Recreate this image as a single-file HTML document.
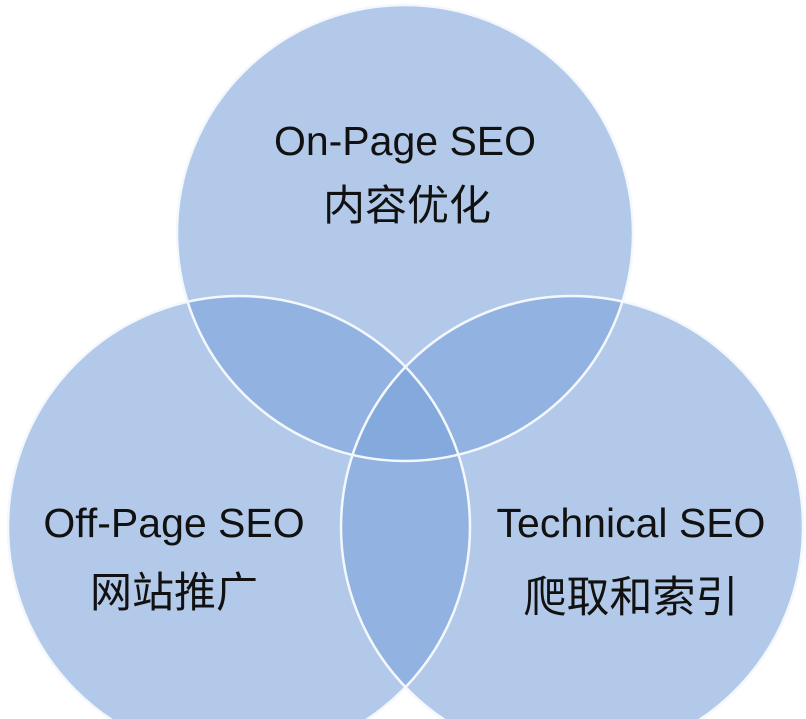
<!DOCTYPE html>
<html><head><meta charset="utf-8"><style>
html,body{margin:0;padding:0;background:#fff;width:806px;height:719px;overflow:hidden}
svg{display:block}
text{font-family:"Liberation Sans","Noto Sans CJK SC",sans-serif;fill:#111}
</style></head><body>
<svg width="806" height="719" viewBox="0 0 806 719" xmlns="http://www.w3.org/2000/svg">
<defs>
<clipPath id="cT"><circle cx="405" cy="233" r="228"/></clipPath>
<clipPath id="cL"><circle cx="239" cy="527" r="231"/></clipPath>
</defs>
<rect width="806" height="719" fill="#fff"/>
<circle cx="405" cy="233" r="228" fill="#b2c9e9"/>
<circle cx="239" cy="527" r="231" fill="#b2c9e9"/>
<circle cx="572" cy="527" r="231" fill="#b2c9e9"/>
<g clip-path="url(#cT)">
<circle cx="239" cy="527" r="231" fill="#92b3e1"/>
<circle cx="572" cy="527" r="231" fill="#92b3e1"/>
</g>
<g clip-path="url(#cL)">
<circle cx="572" cy="527" r="231" fill="#92b3e1"/>
<g clip-path="url(#cT)"><circle cx="572" cy="527" r="231" fill="#84a9dc"/></g>
</g>
<g fill="none" stroke="#f4f8fd" stroke-width="2.5">
<circle cx="405" cy="233" r="228"/>
<circle cx="239" cy="527" r="231"/>
<circle cx="572" cy="527" r="231"/>
</g>
<text x="405" y="155" font-size="41" text-anchor="middle">On-Page SEO</text>
<text x="407" y="220" font-size="42" text-anchor="middle">内容优化</text>
<text x="174" y="537" font-size="41" text-anchor="middle">Off-Page SEO</text>
<text x="174" y="607" font-size="42" text-anchor="middle">网站推广</text>
<text x="631" y="537" font-size="41" text-anchor="middle">Technical SEO</text>
<text x="631" y="612" font-size="43" text-anchor="middle">爬取和索引</text>
</svg>
</body></html>
